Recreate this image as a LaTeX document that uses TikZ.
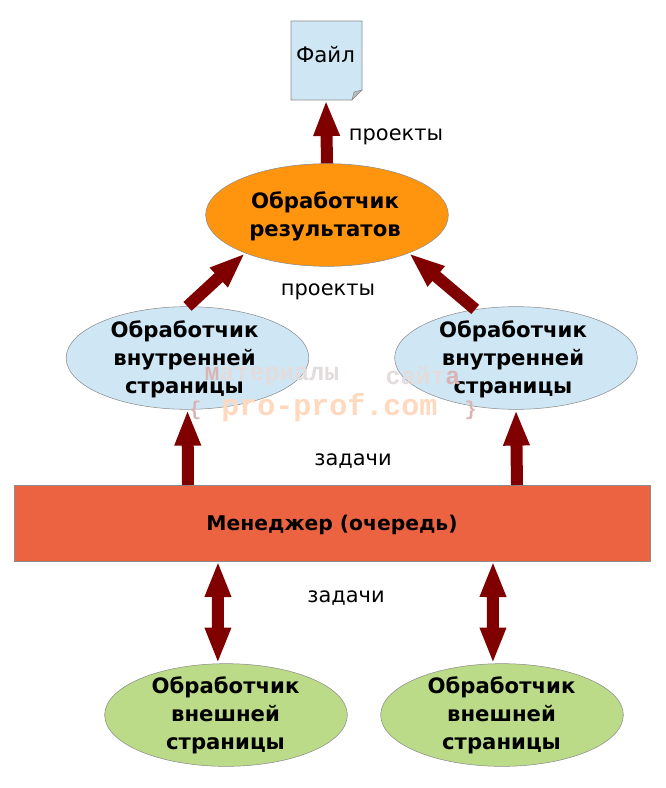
\documentclass[tikz,border=0pt]{standalone}
\usepackage{fontspec}
\setmainfont{DejaVu Sans}
\newfontfamily\markfont{Liberation Mono}
\usetikzlibrary{arrows.meta,shapes.geometric}
\definecolor{darkred}{rgb}{0.5,0,0}
\definecolor{paleblue}{HTML}{CFE7F5}
\definecolor{palegreen}{HTML}{BBDB88}
\definecolor{sunorange}{HTML}{FF950E}
\definecolor{brick}{HTML}{EC6341}
\definecolor{edgegray}{HTML}{8C8C8C}
\definecolor{markgray}{HTML}{E2DCDC}
\definecolor{markpeach}{HTML}{FFD8BE}
\definecolor{markred}{HTML}{DAB4B4}
\newcommand{\markbrace}[1]{{\fontsize{15pt}{16pt}\selectfont\color{markred}#1}}
\tikzset{
  worker/.style={ellipse,draw=edgegray,thin,inner sep=0,minimum width=182pt,minimum height=77pt},
  workertext/.style={align=center,inner sep=0,font=\fontsize{15.9pt}{21pt}\selectfont\bfseries},
  flow/.style={-{Triangle[length=27pt,width=18pt]},darkred,line width=9pt},
  twoway/.style={{Triangle[length=27pt,width=18pt]}-{Triangle[length=27pt,width=18pt]},darkred,line width=9pt},
  caption/.style={font=\fontsize{15.7pt}{18pt}\selectfont},
  faint/.style={font=\fontsize{18.7pt}{20pt}\selectfont\markfont\bfseries,text=markgray,inner sep=0}
}
\begin{document}
\begin{tikzpicture}[x=0.75pt,y=-0.75pt]
  \useasboundingbox (0,0) rectangle (665,788);
  % the file with its folded corner
  \draw[edgegray,fill=paleblue] (291,21) -- (362,21) -- (362,90) -- (352,100) -- (291,100) -- cycle;
  \draw[edgegray,fill=edgegray!60] (352,100) -- (354,92) -- (362,90) -- cycle;
  \node[inner sep=0,font=\fontsize{16pt}{18pt}\selectfont] (file) at (325.5,55) {Файл};
  \coordinate (fileend) at (326,100);
  % workers
  \node[worker,fill=sunorange] (result) at (327,215) {};
  \node[worker,fill=paleblue] (innerl) at (187.5,358) {};
  \node[worker,fill=paleblue] (innerr) at (516,358) {};
  \node[draw=edgegray,fill=brick,minimum width=477pt,minimum height=57pt,inner sep=0] (queue) at (332,523) {};
  \node[worker,fill=palegreen] (outerl) at (226,715) {};
  \node[worker,fill=palegreen] (outerr) at (502,715) {};
  % their texts
  \node[workertext] (resulttext) at (325,216) {Обработчик\\результатов};
  \node[workertext] (innerltext) at (184.5,359) {Обработчик\\внутренней\\страницы};
  \node[workertext] (innerrtext) at (513,359) {Обработчик\\внутренней\\страницы};
  \node[inner sep=0,font=\fontsize{15.2pt}{18pt}\selectfont\bfseries] (queuetext) at (332,525) {Менеджер (очередь)};
  \node[workertext] (outerltext) at (225.5,715) {Обработчик\\внешней\\страницы};
  \node[workertext] (outerrtext) at (501.5,715) {Обработчик\\внешней\\страницы};
  % connectors
  \coordinate (qa) at (188,485);
  \coordinate (qb) at (517,485);
  \coordinate (qc) at (218,561);
  \coordinate (qd) at (493,561);
  \draw[flow] (result.90) -- (fileend);
  \draw[flow] (innerl.90) -- (result.205);
  \draw[flow] (innerr.130) -- (result.335);
  \draw[flow] (qa) -- (innerl.270);
  \draw[flow] (qb) -- (innerr.270);
  \draw[twoway] (qc) -- (outerl.99);
  \draw[twoway] (qd) -- (outerr.100);
  % labels
  \node[caption] (lab1) at (396,137) {проекты};
  \node[caption] (lab2) at (328,292) {проекты};
  \node[caption] (lab3) at (353,461) {задачи};
  \node[caption] (lab4) at (346,598) {задачи};
  % watermark
  \node[faint] (mark1) at (272,376) {{\color{markred}м}атериалы};
  \node[faint] (mark2) at (423,376) {сайт{\color{markred}а}};
  \node[faint,text=markpeach,font=\fontsize{22.5pt}{24pt}\selectfont\markfont\bfseries] (mark3) at (333,408) {\markbrace{\{}\hspace{1.5pt} pro-prof.com \hspace{7pt}\markbrace{\}}};
\end{tikzpicture}
\end{document}
